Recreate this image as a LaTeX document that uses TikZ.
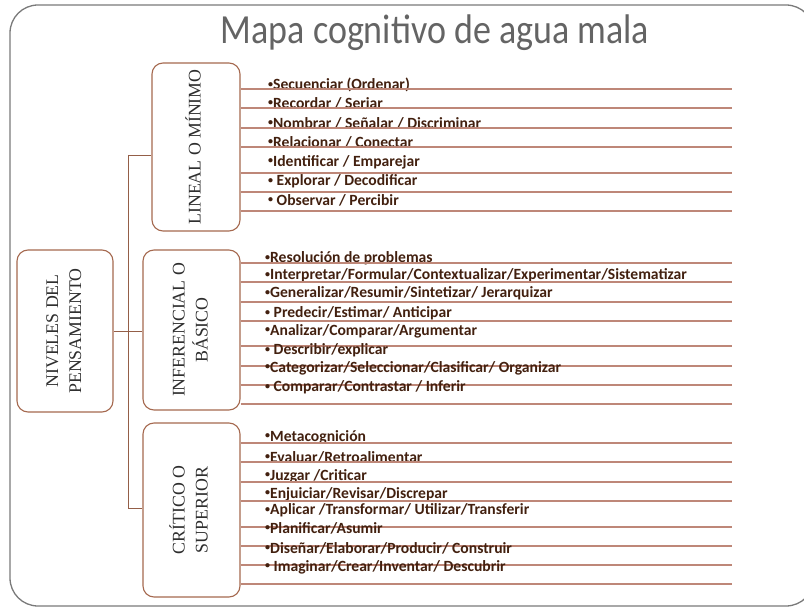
\documentclass[tikz,border=0pt]{standalone}
\usepackage{fontspec}
\setmainfont{Liberation Serif}
\newfontfamily\calib{Carlito}
\definecolor{frame}{HTML}{7A7A7A}
\definecolor{titlec}{HTML}{646464}
\definecolor{boxc}{HTML}{A5694F}
\definecolor{linec}{HTML}{BE8778}
\definecolor{itemc}{HTML}{42200F}
\definecolor{boxtxt}{HTML}{2E2E2E}
\tikzset{
  levelbox/.style={draw=boxc, line width=1.1pt, rounded corners=11pt, inner sep=0pt, text=boxtxt},
  link/.style={draw=boxc!90!black, line width=0.9pt},
  itemline/.style={draw=linec, line width=1.1pt},
  itemtxt/.style={anchor=west, inner sep=0pt, text=itemc, font=\calib\bfseries\fontsize{15.6}{17}\selectfont},
}
\newcommand{\bul}{{\fontsize{10}{10}\selectfont\raisebox{2.2pt}{•}}}
\newcommand{\rot}[1]{\rotatebox{90}{\fontsize{17.8}{23}\selectfont\begin{tabular}{@{}c@{}}#1\end{tabular}}}
\newcommand{\myrow}[6]{%
  \node[itemtxt] (#1) at (#3,#4) {#6};
  \draw[itemline] (#2.east |- 0,#5) -- (732,#5);}
\begin{document}
\begin{tikzpicture}[x=1pt,y=-1pt]
\useasboundingbox (0,0) rectangle (804,607);
\clip (0,0) rectangle (804,607);
\draw[frame, line width=1.3pt, rounded corners=28pt] (10,5) rectangle (814,606);
\node[text=titlec, font=\calib\fontsize{36}{40}\selectfont, yscale=1.15] (title) at (435,33) {Mapa cognitivo de agua mala};

\node[levelbox, minimum width=96pt, minimum height=162pt] (niv) at (65,331) {\rot{NIVELES DEL\\PENSAMIENTO}};
\node[levelbox, minimum width=88pt, minimum height=168pt] (lin) at (196,147) {\rot{LINEAL O MÍNIMO}};
\node[levelbox, minimum width=97pt, minimum height=160pt] (inf) at (191.5,330) {\rot{INFERENCIAL O\\BÁSICO}};
\node[levelbox, minimum width=97pt, minimum height=174pt] (cri) at (191.5,510) {\rot{CRÍTICO O\\SUPERIOR}};

\coordinate (tt) at (128,155);
\coordinate (tb) at (128,508);
\draw[link] (tt) -- (tb);
\draw[link] (tt) -- (tt -| lin.west);
\draw[link] (niv.east) -- (niv.east -| inf.west);
\draw[link] (tb) -- (tb -| cri.west);

\myrow{a1}{lin}{268}{85}{89}{\bul Secuenciar (Ordenar)}
\myrow{a2}{lin}{268}{103}{108}{\bul Recordar / Seriar}
\myrow{a3}{lin}{268}{123}{128}{\bul Nombrar / Señalar / Discriminar}
\myrow{a4}{lin}{268}{142}{147}{\bul Relacionar / Conectar}
\myrow{a5}{lin}{268}{162}{173}{\bul Identificar / Emparejar}
\myrow{a6}{lin}{268}{181}{192}{\bul\ Explorar / Decodificar}
\myrow{a7}{lin}{268}{200}{211}{\bul\ Observar / Percibir}

\myrow{b1}{inf}{265}{258}{263}{\bul Resolución de problemas}
\myrow{b2}{inf}{265}{275}{282}{\bul Interpretar/Formular/Contextualizar/Experimentar/Sistematizar}
\myrow{b3}{inf}{265}{293}{302}{\bul Generalizar/Resumir/Sintetizar/ Jerarquizar}
\myrow{b4}{inf}{265}{313}{321}{\bul\ Predecir/Estimar/ Anticipar}
\myrow{b5}{inf}{265}{331}{346}{\bul Analizar/Comparar/Argumentar}
\myrow{b6}{inf}{265}{350}{366}{\bul\ Describir/explicar}
\myrow{b7}{inf}{265}{368}{385}{\bul Categorizar/Seleccionar/Clasificar/ Organizar}
\myrow{b8}{inf}{265}{387}{404}{\bul\ Comparar/Contrastar / Inferir}

\myrow{c1}{cri}{265}{437}{443}{\bul Metacognición}
\myrow{c2}{cri}{265}{457}{462}{\bul Evaluar/Retroalimentar}
\myrow{c3}{cri}{265}{476}{482}{\bul Juzgar /Criticar}
\myrow{c4}{cri}{265}{494}{501}{\bul Enjuiciar/Revisar/Discrepar}
\myrow{c5}{cri}{265}{510}{527}{\bul Aplicar /Transformar/ Utilizar/Transferir}
\myrow{c6}{cri}{265}{528}{546}{\bul Planificar/Asumir}
\myrow{c7}{cri}{265}{548}{565}{\bul Diseñar/Elaborar/Producir/ Construir}
\myrow{c8}{cri}{265}{567}{584}{\bul\ Imaginar/Crear/Inventar/ Descubrir}
\end{tikzpicture}
\end{document}
